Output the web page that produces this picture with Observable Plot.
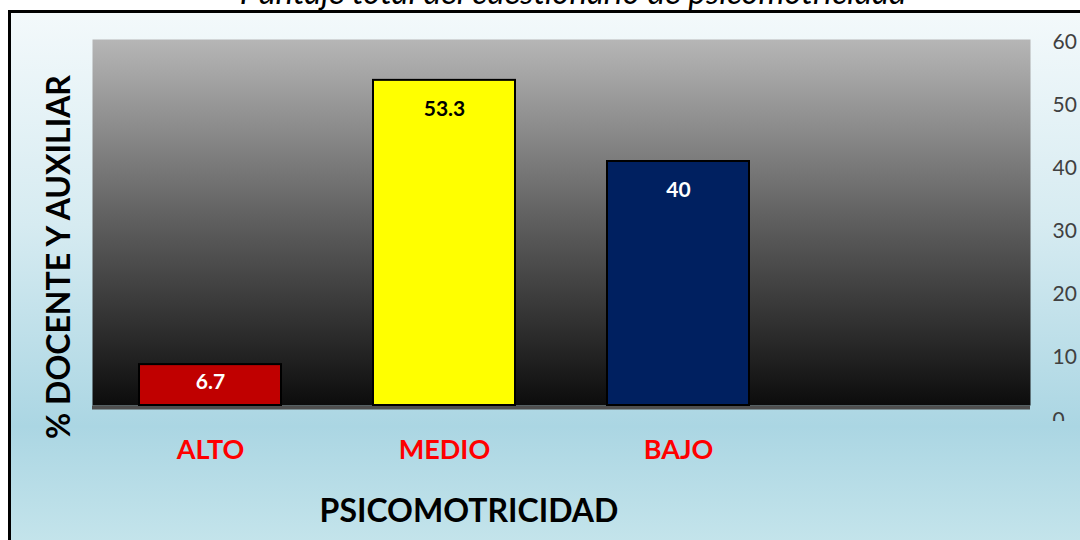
<!DOCTYPE html>
<html>
<head>
<meta charset="utf-8">
<script src="https://cdn.jsdelivr.net/npm/d3@7"></script>
<script src="https://cdn.jsdelivr.net/npm/@observablehq/plot@0.6"></script>
<style>
  html, body { margin: 0; padding: 0; background: #ffffff; }
  #root { position: relative; width: 1080px; height: 540px; overflow: hidden; background: #ffffff; font-family: Lato, "Open Sans", sans-serif; }
  #panel { position: absolute; left: 8px; top: 10px; width: 1100px; height: 530px; border-left: 3px solid #000; border-top: 3px solid #000;
    background: linear-gradient(to bottom, #f3f9fb 0%, #d6ebf1 40%, #abd6e3 78%, #c4e4eb 100%); }
  #title { position: absolute; left: 0; width: 1146px; top: -25px; text-align: center; font-style: italic; font-size: 33px; line-height: 33px; color: #000; white-space: nowrap; }
  #ytitle { position: absolute; left: 58px; top: 257px; transform: translate(-50%, -50%) rotate(-90deg); font-weight: bold; font-size: 32px; line-height: 32px; white-space: nowrap; color: #000; }
  #xtitle { position: absolute; left: 0; width: 938px; top: 494px; text-align: center; font-weight: bold; font-size: 32px; line-height: 32px; white-space: nowrap; color: #000; }
  .layer { position: absolute; left: 0; top: 0; }
  #axis svg { clip-path: inset(0 0 119px 0); }
</style>
</head>
<body>
<svg width="0" height="0" style="position:absolute">
  <defs>
    <linearGradient id="plotGrad" x1="0" y1="0" x2="0" y2="1">
      <stop offset="0%" stop-color="#b6b6b6"/>
      <stop offset="50%" stop-color="#5e5e5e"/>
      <stop offset="100%" stop-color="#0c0c0c"/>
    </linearGradient>
  </defs>
</svg>
<div id="root">
  <div id="panel"></div>
  <div id="title">Puntaje total del cuestionario de psicomotricidad</div>
  <div id="chart" class="layer"></div>
  <div id="axis" class="layer"></div>
  <div id="ytitle">% DOCENTE Y AUXILIAR</div>
  <div id="xtitle">PSICOMOTRICIDAD</div>
</div>
<script>
const categories = ["ALTO", "MEDIO", "BAJO"];
const values = [6.7, 53.3, 40];
const barColors = ["#c00000", "#ffff00", "#002060"];
const labelColors = ["#ffffff", "#000000", "#ffffff"];
const xSlots = [...categories, ""];
const yTicks = [0, 10, 20, 30, 40, 50, 60];

const data = categories.map((c, i) => ({
  category: c, value: values[i], color: barColors[i], labelColor: labelColors[i]
}));

const chart = Plot.plot({
  width: 1080,
  height: 540,
  marginLeft: 92,
  marginRight: 50,
  marginTop: 39,
  marginBottom: 135,
  style: { background: "transparent", fontFamily: "Lato, 'Open Sans', sans-serif", overflow: "visible" },
  x: { domain: xSlots, paddingInner: 0.395, paddingOuter: 0.1975 },
  y: { domain: [0, 60] },
  color: { type: "identity" },
  marks: [
    Plot.frame({ fill: "url(#plotGrad)", stroke: null }),
    Plot.ruleY([0], { stroke: "#4f4f4f", strokeWidth: 4, dy: 2 }),
    Plot.barY(data, { x: "category", y: "value", fill: "color", stroke: "#000000", strokeWidth: 2 }),
    Plot.text(data.filter(d => d.value > 20), { x: "category", y: "value", text: d => String(d.value), fill: "labelColor", dy: 29, fontSize: 21, fontWeight: "bold" }),
    Plot.text(data.filter(d => d.value <= 20), { x: "category", y: "value", text: d => String(d.value), fill: "labelColor", dy: 18, fontSize: 21, fontWeight: "bold" }),
    Plot.axisX({ tickSize: 0, tickPadding: 34, fill: "#ff0000", fontSize: 27, fontWeight: "bold", label: null }),
    Plot.axisY({ ticks: [], label: null })
  ]
});
document.getElementById("chart").appendChild(chart);

const axis = Plot.plot({
  width: 1080,
  height: 540,
  marginLeft: 92,
  marginRight: 50,
  marginTop: 42,
  marginBottom: 120,
  style: { background: "transparent", fontFamily: "Lato, 'Open Sans', sans-serif", overflow: "visible" },
  y: { domain: [0, 60] },
  marks: [
    Plot.axisY(yTicks, { anchor: "right", tickSize: 0, tickPadding: 22, fontSize: 21, fill: "#404040", label: null })
  ]
});
document.getElementById("axis").appendChild(axis);
</script>
</body>
</html>
